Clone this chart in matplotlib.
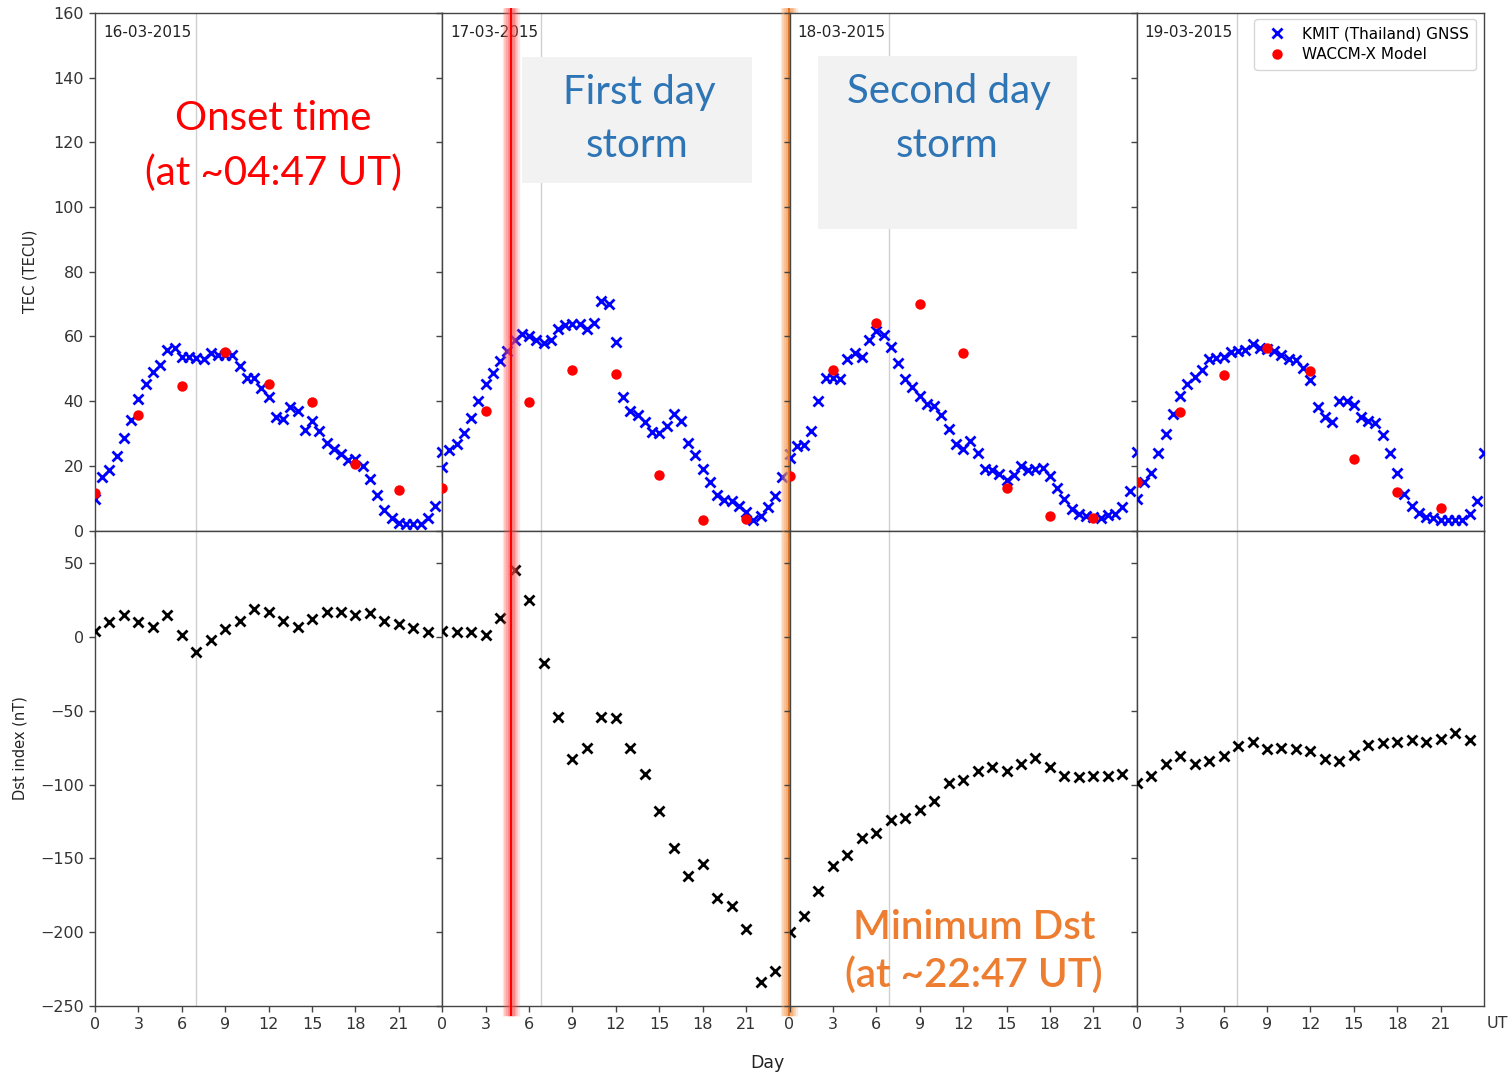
import numpy as np
import matplotlib
matplotlib.use("Agg")
import matplotlib.pyplot as plt
from matplotlib.patches import Rectangle

# ---------------------------------------------------------------- data
dates = ["16-03-2015", "17-03-2015", "18-03-2015", "19-03-2015"]
hour_ticks = [0, 3, 6, 9, 12, 15, 18, 21]

tec_hours = np.arange(0, 24.5, 0.5)     # 30-min GNSS samples, 00-24 UT
model_hours = np.arange(0, 24, 3)        # 3-hourly WACCM-X output
dst_hours = np.arange(0, 24, 1)          # hourly Dst

gnss_tec_16 = [9.8, 16.5, 18.8, 23.0, 28.6, 34.2, 40.7, 45.2, 49.0, 51.1,
               55.7, 56.4, 53.6, 53.8, 53.3, 52.9, 55.0, 54.2, 54.2, 54.2,
               50.8, 47.1, 47.2, 44.2, 41.3, 35.1, 34.6, 38.2, 37.1, 31.2,
               34.0, 30.7, 27.0, 25.3, 23.7, 21.9, 22.2, 20.1, 16.0, 11.0,
               6.4, 3.9, 2.3, 2.1, 1.9, 1.9, 3.9, 7.7, 24.2]
gnss_tec_17 = [19.6, 24.8, 26.6, 30.1, 34.9, 40.0, 45.2, 48.7, 52.3, 55.4,
               58.8, 60.7, 60.0, 58.8, 58.1, 58.8, 62.4, 63.6, 64.0, 64.0,
               62.4, 64.2, 71.0, 70.1, 58.3, 41.3, 37.1, 35.6, 33.5, 30.4,
               30.1, 32.2, 35.9, 34.0, 27.1, 23.5, 19.1, 15.0, 11.0, 9.3,
               9.1, 7.7, 5.7, 3.3, 4.6, 7.2, 10.8, 16.5, 23.8]
gnss_tec_18 = [22.5, 26.1, 26.3, 30.9, 40.0, 47.2, 47.2, 46.7, 52.9, 54.9,
               53.8, 59.0, 61.7, 60.3, 56.7, 51.9, 46.9, 44.4, 41.6, 39.2,
               38.4, 35.6, 31.3, 26.8, 25.3, 27.6, 23.9, 19.1, 18.8, 17.5,
               15.5, 17.3, 19.8, 18.6, 19.1, 19.3, 17.0, 13.2, 9.8, 6.7,
               5.2, 4.6, 4.1, 3.9, 4.8, 5.2, 7.4, 12.2, 24.2]
gnss_tec_19 = [9.8, 15.0, 17.7, 23.9, 29.9, 36.1, 41.6, 45.4, 47.5, 49.7,
               53.1, 53.3, 53.6, 55.2, 55.5, 55.7, 57.8, 56.5, 56.2, 55.4,
               54.2, 53.1, 52.8, 50.3, 46.4, 38.2, 35.1, 33.5, 40.0, 40.0,
               38.7, 35.1, 33.8, 33.3, 29.6, 23.9, 17.8, 11.3, 7.7, 5.4,
               4.3, 3.9, 3.1, 3.3, 3.1, 3.1, 5.0, 9.1, 23.9]

model_tec_16 = [11.7, 35.8, 44.7, 55.1, 45.4, 39.8, 20.6, 12.5]
model_tec_17 = [13.2, 36.8, 39.6, 49.7, 48.5, 17.2, 3.1, 3.5]
model_tec_18 = [16.8, 49.5, 64.2, 70.1, 54.9, 13.2, 4.6, 3.8]
model_tec_19 = [15.0, 36.6, 48.2, 56.5, 49.2, 22.2, 11.9, 6.9]

dst_16 = [4, 10, 15, 10, 7, 15, 1, -10, -2, 5, 11, 19,
          17, 11, 7, 12, 17, 17, 15, 16, 11, 9, 6, 3]
dst_17 = [4, 3, 3, 1, 13, 45, 25, -18, -54, -83, -75, -54,
          -55, -75, -93, -118, -143, -162, -154, -177, -182, -198, -234, -226]
dst_18 = [-200, -189, -172, -155, -148, -136, -133, -124, -123, -117, -111, -99,
          -97, -91, -88, -91, -86, -82, -88, -94, -95, -94, -94, -93]
dst_19 = [-99, -94, -86, -81, -86, -84, -81, -74, -71, -76, -75, -76,
          -77, -83, -84, -80, -73, -72, -71, -70, -71, -69, -65, -70]

gnss_days = [gnss_tec_16, gnss_tec_17, gnss_tec_18, gnss_tec_19]
model_days = [model_tec_16, model_tec_17, model_tec_18, model_tec_19]
dst_days = [dst_16, dst_17, dst_18, dst_19]

# thin reference line in each day (UT hour)
ref_hours = [7.0, 6.85, 6.85, 6.9]

onset_hour = 4 + 47 / 60      # storm onset, 17 March
min_dst_mark = 23.95          # marker for minimum Dst, drawn in the 17 March column

# ---------------------------------------------------------------- figure
W, H = 1508, 1075
fig = plt.figure(figsize=(W / 100, H / 100), dpi=100)


def fx(p):
    return p / W


def fy(p):
    return 1 - p / H


gs = fig.add_gridspec(2, 4, left=fx(95), right=fx(1484), top=fy(13), bottom=fy(1006),
                      height_ratios=[517, 475], hspace=0, wspace=0)

spine_col = "#444444"
top_axes, bot_axes = [], []
for i in range(4):
    axt = fig.add_subplot(gs[0, i], sharey=top_axes[0] if top_axes else None)
    axb = fig.add_subplot(gs[1, i], sharex=axt, sharey=bot_axes[0] if bot_axes else None)
    top_axes.append(axt)
    bot_axes.append(axb)

for i, (axt, axb) in enumerate(zip(top_axes, bot_axes)):
    for ax in (axt, axb):
        ax.set_xlim(0, 24)
        ax.set_xticks(hour_ticks)
        for s in ax.spines.values():
            s.set_color(spine_col)
            s.set_linewidth(1.0)
        ax.tick_params(colors=spine_col, labelcolor="#333333", labelsize=11.5,
                       length=4.5, width=1.0)
        ax.axvline(ref_hours[i], color="#d0d0d0", lw=1.0, zorder=0)

    axt.plot(tec_hours, gnss_days[i], "x", color="blue", ms=7.5, mew=2.0,
             label="KMIT (Thailand) GNSS", zorder=3)
    axt.plot(model_hours, model_days[i], "o", color="red", ms=7.5, mec="none",
             label="WACCM-X Model", zorder=4)
    axb.plot(dst_hours, dst_days[i], "x", color="black", ms=7, mew=2.0, zorder=3)

    axt.set_ylim(0, 160)
    axt.set_yticks(np.arange(0, 161, 20))
    axb.set_ylim(-250, 72)
    axb.set_yticks(np.arange(-250, 51, 50))

    axt.tick_params(labelbottom=False)
    if i > 0:
        axt.tick_params(labelleft=False)
        axb.tick_params(labelleft=False)

    axt.text(0.023, 0.963, dates[i], transform=axt.transAxes, fontsize=11,
             va="center", ha="left", color="#222222")

leg = top_axes[3].legend(loc="upper right", fontsize=11, frameon=True,
                         borderpad=0.5, handletextpad=0.6, labelspacing=0.35,
                         bbox_to_anchor=(1.0, 1.003))
leg.get_frame().set_edgecolor("#cccccc")
leg.get_frame().set_linewidth(1.0)

# axis labels
fig.text(fx(30), fy(271), "TEC (TECU)", rotation=90, ha="center", va="center",
         fontsize=10.5, color="#222222")
fig.text(fx(20), fy(748), "Dst index (nT)", rotation=90, ha="center", va="center",
         fontsize=10.5, color="#222222")
fig.text(fx(767), fy(1063), "Day", ha="center", va="center", fontsize=12.5,
         color="#222222")
fig.text(fx(1487), fy(1023), "UT", ha="left", va="center", fontsize=11.5,
         color="#333333")


# glowing vertical markers across both rows of the 17 March column
def glow_line(x, glow, core, layers):
    for ax, y0, y1 in ((top_axes[1], 0.0, 1.01), (bot_axes[1], -0.02, 1.0)):
        for w, a in layers:
            ax.axvline(x, ymin=y0, ymax=y1, color=glow, lw=w, alpha=a,
                       zorder=6, clip_on=False, solid_capstyle="butt")
        ax.axvline(x, ymin=y0, ymax=y1, color=core, lw=1.5, zorder=7,
                   clip_on=False, solid_capstyle="butt")


glow_line(onset_hour, "#ff5050", "#ff0000",
          ((12.5, 0.16), (10, 0.20), (7.5, 0.26), (5, 0.34)))
glow_line(min_dst_mark, "#f39a55", "#e0762a",
          ((12.5, 0.20), (10, 0.26), (7.5, 0.32), (5, 0.40)))

# annotation boxes and captions
box_col = "#f2f2f2"
fig.add_artist(Rectangle((fx(522), fy(183)), fx(752) - fx(522), fy(57) - fy(183),
                         transform=fig.transFigure, facecolor=box_col,
                         edgecolor="none", zorder=10))
fig.add_artist(Rectangle((fx(818), fy(229)), fx(1077) - fx(818), fy(56) - fy(229),
                         transform=fig.transFigure, facecolor=box_col,
                         edgecolor="none", zorder=10))

big = dict(family="Lato", fontsize=29, ha="center", va="baseline", zorder=11)
red, blue, orange = "#ff0000", "#2e75b6", "#ed7d31"
fig.text(fx(273), fy(130), "Onset time", color=red, **big)
fig.text(fx(273), fy(185), "(at ~04:47 UT)", color=red, **big)
fig.text(fx(639), fy(104), "First day", color=blue, **big)
fig.text(fx(637), fy(157), "storm", color=blue, **big)
fig.text(fx(949), fy(103), "Second day", color=blue, **big)
fig.text(fx(947), fy(157), "storm", color=blue, **big)
fig.text(fx(974), fy(939), "Minimum Dst", color=orange, weight="semibold", **big)
fig.text(fx(974), fy(987), "(at ~22:47 UT)", color=orange, weight="semibold", **big)

fig.savefig("out.png", dpi=100)
